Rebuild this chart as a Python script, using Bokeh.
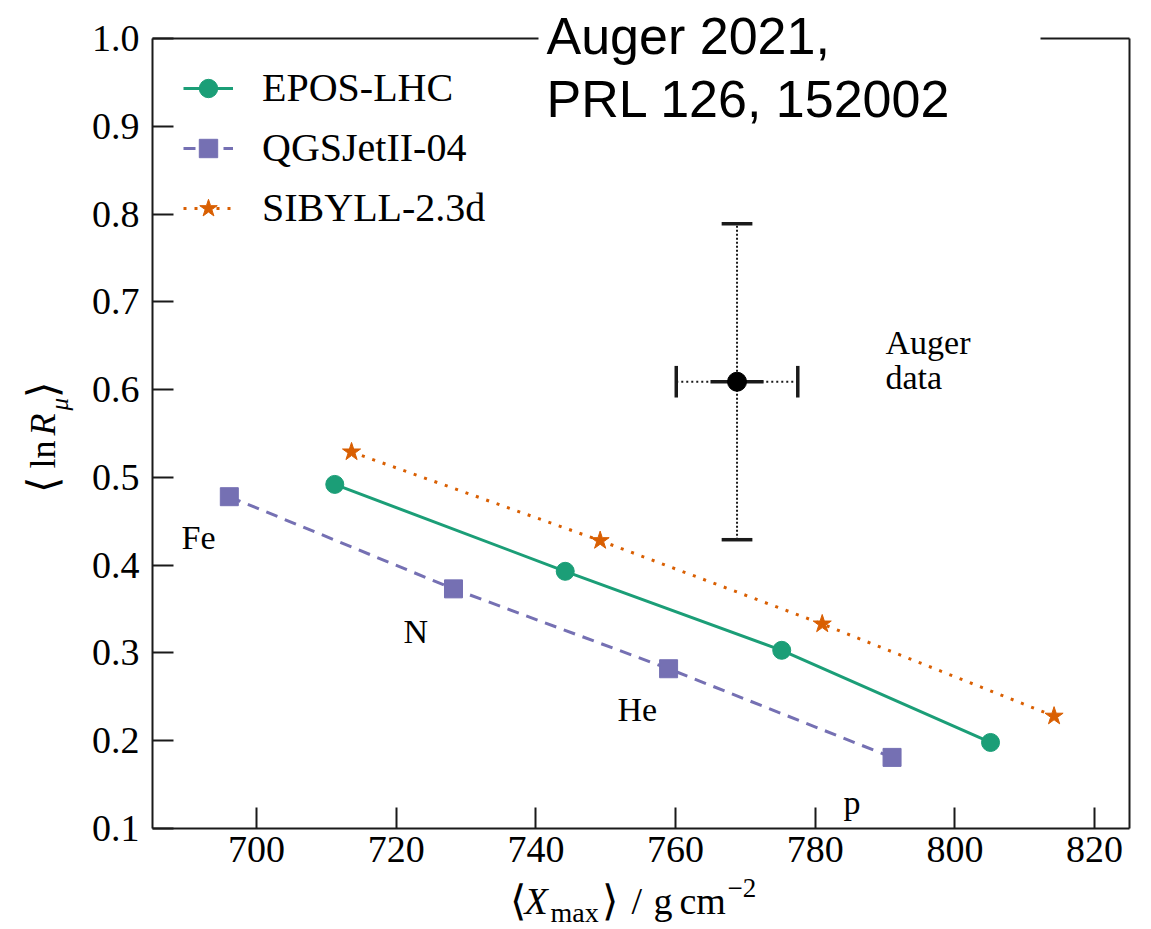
import math

from bokeh.embed import file_html
from bokeh.models import BoxAnnotation, FixedTicker, Label, Legend, LegendItem, LinearAxis, Range1d
from bokeh.plotting import figure
from bokeh.resources import INLINE

# Mean depth of shower maximum and mean log muon rescaling for Fe, N, He, p
primaries = ["Fe", "N", "He", "p"]
epos_xmax = [711.2, 744.2, 775.2, 805.1]
epos_lnr = [0.492, 0.393, 0.303, 0.198]
qgs_xmax = [696.1, 728.2, 759.0, 791.0]
qgs_lnr = [0.478, 0.373, 0.282, 0.181]
sib_xmax = [713.6, 749.2, 781.0, 814.2]
sib_lnr = [0.529, 0.428, 0.333, 0.228]

# Auger measurement with statistical and systematic uncertainties
auger_xmax = [768.8]
auger_lnr = [0.609]
auger_xmax_stat = [3.8]
auger_xmax_sys = [8.7]
auger_lnr_sys = [0.180]

x_ticks = [700, 720, 740, 760, 780, 800, 820]
y_ticks = [0.1, 0.2, 0.3, 0.4, 0.5, 0.6, 0.7, 0.8, 0.9, 1.0]
y_tick_labels = ["0.1", "0.2", "0.3", "0.4", "0.5", "0.6", "0.7", "0.8", "0.9", "1.0"]

GREEN = "#1b9e77"
PURPLE = "#7570b3"
ORANGE = "#d95f02"
INK = "#1a1a1a"
SERIF = "Liberation Serif"
SANS = "Liberation Sans"

# canvas size and the pixel box that holds the data axes
W, H = 1151, 929
FL, FR, FT, FB = 152, 1129, 38, 828
X0, X1 = 685.1, 825.0
Y0, Y1 = 0.1, 1.0


def dx(px):
    return X0 + (px - FL) * (X1 - X0) / (FR - FL)


def dy(py):
    return Y1 - (py - FT) * (Y1 - Y0) / (FB - FT)


# the frame spans the whole canvas; axes sit at fixed data locations inside it
p = figure(
    width=W, height=H,
    x_range=Range1d(dx(0), dx(W)), y_range=Range1d(dy(H), dy(0)),
    output_backend="svg", toolbar_location=None,
    min_border=0,
)
p.grid.visible = False
p.background_fill_color = "white"
p.border_fill_color = "white"
p.outline_line_color = None

xax = p.xaxis[0]
yax = p.yaxis[0]
xax.fixed_location = Y0
xax.bounds = (X0, X1)
yax.fixed_location = X0
yax.bounds = (Y0, Y1)

for ax in (xax, yax):
    ax.axis_line_color = INK
    ax.axis_line_width = 2
    ax.major_tick_line_color = INK
    ax.major_tick_line_width = 2
    ax.major_tick_in = 21
    ax.major_tick_out = 0
    ax.minor_tick_line_color = None
    ax.major_label_text_font = SERIF
    ax.major_label_text_font_size = "38px"
    ax.major_label_text_color = "black"
    ax.axis_label = None

xax.ticker = FixedTicker(ticks=x_ticks)
xax.major_label_standoff = 8
yax.ticker = FixedTicker(ticks=y_ticks)
yax.major_label_overrides = {v: s for v, s in zip(y_ticks, y_tick_labels)}
yax.major_label_standoff = 13

# plain top and right edges of the box
top_edge = LinearAxis(fixed_location=Y1, bounds=(X0, X1), ticker=FixedTicker(ticks=[]),
                      axis_line_color=INK, axis_line_width=2, major_tick_line_color=None,
                      minor_tick_line_color=None, major_label_text_font_size="0px")
right_edge = LinearAxis(fixed_location=X1, bounds=(Y0, Y1), ticker=FixedTicker(ticks=[]),
                        axis_line_color=INK, axis_line_width=2, major_tick_line_color=None,
                        minor_tick_line_color=None, major_label_text_font_size="0px")
p.add_layout(top_edge, "above")
p.add_layout(right_edge, "right")

# model lines
epos_line = p.line(epos_xmax, epos_lnr, line_color=GREEN, line_width=3)
epos_pts = p.scatter(epos_xmax, epos_lnr, marker="circle", size=18, fill_color=GREEN, line_color=GREEN)
qgs_line = p.line(qgs_xmax, qgs_lnr, line_color=PURPLE, line_width=3, line_dash="12 8")
qgs_pts = p.scatter(qgs_xmax, qgs_lnr, marker="square", size=18, fill_color=PURPLE, line_color=PURPLE)
sib_line = p.line(sib_xmax, sib_lnr, line_color=ORANGE, line_width=3, line_dash="3 8")
sib_pts = p.scatter(sib_xmax, sib_lnr, marker="star", size=19, fill_color=ORANGE, line_color=ORANGE)

# Auger data point: dotted systematic bars with caps, solid statistical bar
ax_c, ay_c = auger_xmax[0], auger_lnr[0]
sx, sy, st = auger_xmax_sys[0], auger_lnr_sys[0], auger_xmax_stat[0]
p.segment(x0=[ax_c - sx], y0=[ay_c], x1=[ax_c + sx], y1=[ay_c], line_color=INK, line_width=2, line_dash="2 3")
p.segment(x0=[ax_c], y0=[ay_c - sy], x1=[ax_c], y1=[ay_c + sy], line_color=INK, line_width=2, line_dash="2 2")
p.segment(x0=[ax_c - st], y0=[ay_c], x1=[ax_c + st], y1=[ay_c], line_color=INK, line_width=3.5)
cap_w = 2.2
cap_h = 0.018
p.segment(x0=[ax_c - cap_w, ax_c - cap_w], y0=[ay_c + sy, ay_c - sy],
          x1=[ax_c + cap_w, ax_c + cap_w], y1=[ay_c + sy, ay_c - sy], line_color=INK, line_width=3.5)
p.segment(x0=[ax_c - sx, ax_c + sx], y0=[ay_c - cap_h, ay_c - cap_h],
          x1=[ax_c - sx, ax_c + sx], y1=[ay_c + cap_h, ay_c + cap_h], line_color=INK, line_width=3.5)
p.scatter(auger_xmax, auger_lnr, marker="circle", size=19, fill_color="black", line_color="black")

ROW = 46
SPACING = 13
legend = Legend(
    items=[
        LegendItem(label="EPOS-LHC", renderers=[epos_line, epos_pts]),
        LegendItem(label="QGSJetII-04", renderers=[qgs_line, qgs_pts]),
        LegendItem(label="SIBYLL-2.3d", renderers=[sib_line, sib_pts]),
    ],
    location=(183, H - 67 - (3 * ROW + 2 * SPACING)),
    border_line_color=None,
    background_fill_alpha=0,
    label_text_font=SERIF,
    label_text_font_size="40px",
    label_text_color="black",
    glyph_width=50,
    glyph_height=ROW,
    label_height=ROW,
    spacing=SPACING,
    label_standoff=29,
    margin=0,
    padding=0,
)
p.add_layout(legend)

# white patch that opens the top edge behind the reference note
p.add_layout(BoxAnnotation(left=dx(538), right=dx(1040), top=dy(28), bottom=dy(48),
                           fill_color="white", fill_alpha=1, line_color=None))


def text_at(text, px, base, size=34, font=SERIF, style="normal", angle=0.0, ratio=0.335):
    """Place text in canvas pixels; (px, base) is the start of the text on its baseline."""
    shift = ratio * size
    if angle:
        cx, cy = px - shift, base
    else:
        cx, cy = px, base - shift
    p.add_layout(Label(x=cx, y=cy, x_units="canvas", y_units="canvas", text=text,
                       angle=angle, text_font=font, text_font_size=f"{size}px",
                       text_font_style=style, text_color="black",
                       text_baseline="middle", text_align="left"))


# primary labels along the model lines
prim_pos = [(181, 548), (403, 642), (617, 720), (843, 813)]
for name, (px, base) in zip(primaries, prim_pos):
    text_at(name, px, base)

text_at("Auger", 885, 353)
text_at("data", 885, 388)

# reference note
text_at("Auger 2021,", 546, 54, size=52, font=SANS, ratio=0.3465)
text_at("PRL 126, 152002", 546, 117, size=52, font=SANS, ratio=0.3465)

# y axis title: <ln R_mu>, reading upward
up = math.pi / 2
text_at("\u27e8", 57, 492, size=42, angle=up)
text_at("ln", 55, 468, size=36, angle=up)
text_at("R", 55, 435, size=36, style="italic", angle=up)
text_at("\u03bc", 67, 410, size=25, style="italic", angle=up)
text_at("\u27e9", 57, 397, size=42, angle=up)

# x axis title: <X_max> / g cm^-2
BASE = 913
text_at("\u27e8", 509, BASE + 2, size=42)
text_at("X", 524, BASE, size=38, style="italic")
text_at("max", 550, BASE + 8, size=28)
text_at("\u27e9", 601, BASE + 2, size=42)
text_at("/", 631, BASE, size=38)
text_at("g", 653, BASE, size=38)
text_at("cm", 679, BASE, size=38)
text_at("\u22122", 727, BASE - 16, size=27)

open("out.html", "w").write(file_html(p, INLINE))
